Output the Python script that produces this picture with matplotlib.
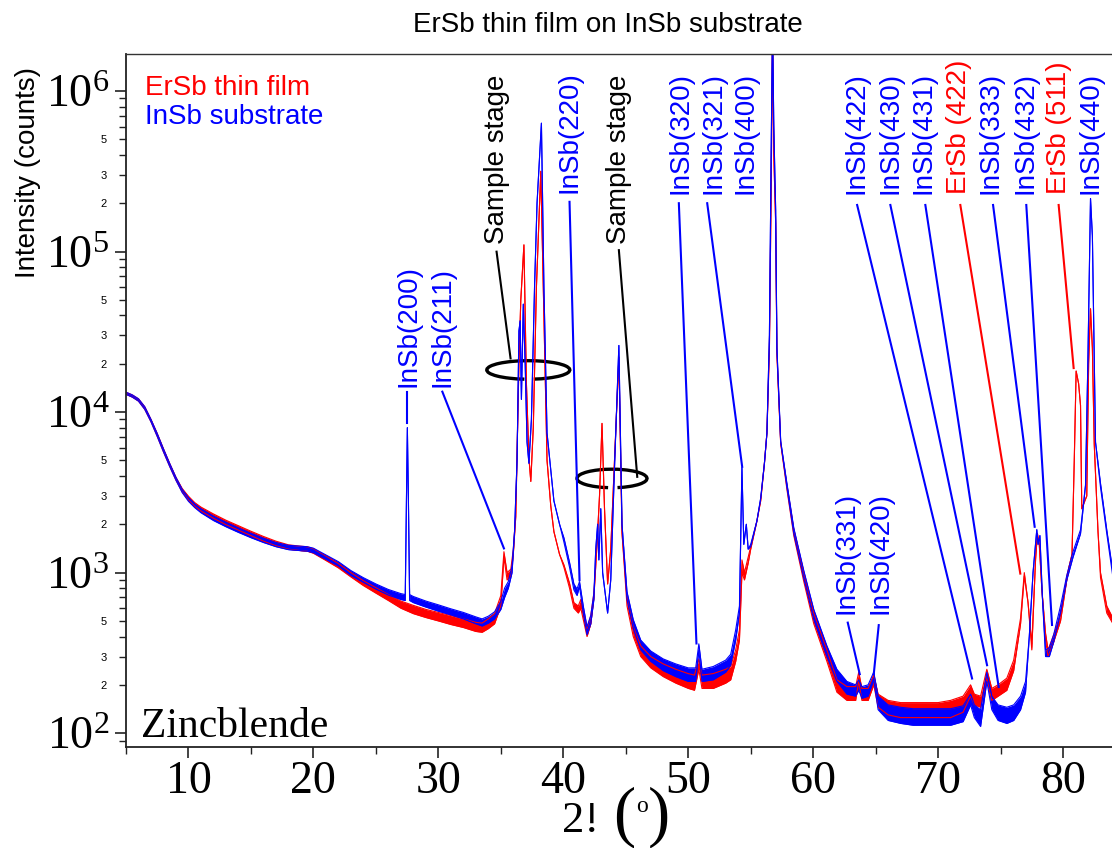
import matplotlib
matplotlib.use("Agg")
import matplotlib.pyplot as plt
import numpy as np
from matplotlib.patches import Arc
from matplotlib.transforms import ScaledTranslation
from matplotlib.ticker import MultipleLocator, LogLocator, FuncFormatter

plt.rcParams['font.family'] = ['Liberation Sans', 'DejaVu Sans']
plt.rcParams['mathtext.fontset'] = 'custom'
plt.rcParams['mathtext.rm'] = 'Liberation Serif'
plt.rcParams['mathtext.it'] = 'Liberation Serif:italic'
plt.rcParams['mathtext.bf'] = 'Liberation Serif:bold'

# ErSb thin film scan: 2theta, lower / upper edge of the noise band (counts)
tt_film = [5.0, 5.5, 6.0, 6.5, 7.0, 7.5, 8.0, 8.5, 9.0, 9.5, 10.0, 10.5, 11.0, 12.0, 13.0,
           14.0, 15.0, 16.0, 17.0, 18.0, 19.0, 19.5, 20.0, 21.0, 22.0, 23.0, 24.0, 25.0,
           26.0, 27.0, 28.0, 29.0, 30.0, 31.0, 32.0, 33.0, 33.5, 34.0, 34.5, 35.0, 35.25,
           35.5, 35.8, 36.0, 36.2, 36.45, 36.6, 36.85, 37.05, 37.25, 37.4, 37.6, 37.85,
           38.2, 38.45, 38.7, 39.0, 39.25, 39.7, 40.05, 40.5, 40.85, 41.2, 41.4, 41.7,
           41.9, 42.2, 42.45, 42.7, 42.9, 43.1, 43.3, 43.55, 43.8, 44.1, 44.45, 44.7,
           45.1, 45.6, 46.2, 47.0, 48.0, 49.0, 50.0, 50.5, 50.85, 51.1, 52.0, 53.0, 53.4,
           53.8, 54.1, 54.3, 54.5, 54.8, 55.0, 55.5, 55.8, 56.1, 56.3, 56.5, 56.65, 56.75,
           56.85, 57.0, 57.1, 57.4, 57.9, 58.45, 59.25, 60.05, 61.1, 61.9, 62.7, 63.4,
           63.65, 63.9, 64.4, 64.85, 65.2, 66.0, 67.0, 68.0, 69.0, 70.0, 71.0, 72.0, 72.6,
           72.9, 73.4, 73.9, 74.3, 74.8, 75.5, 76.05, 76.6, 76.9, 77.2, 77.5, 77.8, 77.95,
           78.1, 78.3, 78.6, 78.8, 79.25, 79.8, 80.3, 80.5, 80.72, 80.9, 81.05, 81.25,
           81.4, 81.5, 81.9, 82.05, 82.2, 82.35, 82.5, 82.8, 83.0, 83.5, 84.0]
film_lo = [12900, 12400, 11700, 10400, 8700, 7050, 5650, 4580, 3760, 3180, 2830, 2590, 2420,
           2180, 1990, 1840, 1700, 1570, 1470, 1400, 1370, 1360, 1320, 1190, 1070, 940, 830,
           745, 670, 600, 555, 525, 500, 475, 455, 430, 425, 448, 480, 620, 1250, 900, 950,
           1300, 2250, 20000, 50000, 110000, 15000, 5200, 3700, 8000, 60000, 316000, 40000,
           5000, 2600, 1800, 1300, 1080, 800, 600, 560, 600, 470, 400, 480, 700, 1500, 3000,
           8500, 2500, 850, 1400, 5000, 22000, 1770, 620, 400, 300, 255, 225, 205, 190, 185,
           250, 190, 190, 205, 215, 280, 380, 1000, 900, 1150, 1400, 2100, 2800, 4800, 7400,
           25000, 300000, 2500000, 400000, 150000, 23000, 6400, 3300, 1700, 880, 480, 280,
           180, 160, 160, 210, 160, 160, 200, 145, 130, 125, 125, 125, 125, 125, 135, 170,
           150, 145, 220, 160, 170, 185, 245, 480, 950, 650, 330, 1200, 1750, 1500, 800, 380,
           300, 370, 500, 900, 1100, 1300, 5000, 18000, 15000, 11000, 2500, 3000, 20000,
           44000, 25000, 6300, 1800, 930, 560, 480]
film_hi = [13300, 12800, 12100, 10800, 9000, 7350, 5900, 4780, 3920, 3340, 2990, 2730, 2560,
           2320, 2120, 1960, 1810, 1680, 1570, 1490, 1460, 1450, 1410, 1270, 1140, 1000, 890,
           805, 730, 665, 625, 590, 565, 540, 515, 490, 485, 515, 555, 720, 1350, 1000, 1050,
           1400, 2350, 20000, 50000, 110000, 15000, 5200, 3700, 8000, 60000, 316000, 40000,
           5000, 2600, 1800, 1300, 1120, 860, 650, 620, 680, 520, 450, 540, 750, 1500, 3000,
           8500, 2500, 850, 1400, 5000, 22000, 1770, 700, 460, 350, 300, 270, 250, 235, 230,
           290, 230, 235, 250, 260, 330, 440, 1200, 1000, 1250, 1450, 2100, 2800, 4800, 7400,
           25000, 300000, 2500000, 400000, 150000, 23000, 6400, 3500, 1850, 1000, 560, 330,
           215, 195, 195, 240, 190, 190, 230, 175, 160, 155, 155, 155, 155, 160, 170, 200,
           175, 170, 250, 190, 200, 220, 285, 520, 1000, 650, 360, 1200, 1750, 1500, 800, 420,
           330, 410, 540, 950, 1100, 1300, 5000, 18000, 15000, 11000, 2500, 3000, 20000,
           44000, 25000, 6300, 1800, 1000, 620, 520]

# InSb substrate scan
tt_sub = [5.0, 5.5, 6.0, 6.5, 7.0, 7.5, 8.0, 8.5, 9.0, 9.5, 10.0, 10.5, 11.0, 12.0, 13.0,
          14.0, 15.0, 16.0, 17.0, 18.0, 19.0, 19.5, 20.0, 21.0, 22.0, 23.0, 24.0, 25.0,
          26.0, 27.0, 27.35, 27.45, 27.52, 27.6, 27.7, 28.0, 29.0, 30.0, 31.0, 32.0, 33.0,
          33.5, 34.0, 34.5, 35.0, 35.3, 35.6, 35.9, 36.1, 36.3, 36.45, 36.55, 36.65, 36.8,
          36.95, 37.1, 37.25, 37.45, 37.7, 37.9, 38.25, 38.45, 38.7, 39.25, 39.7, 40.05,
          40.5, 40.85, 41.1, 41.3, 41.6, 41.9, 42.2, 42.45, 42.6, 42.75, 42.85, 43.0, 43.15,
          43.4, 43.55, 43.8, 44.1, 44.45, 44.7, 45.1, 45.6, 46.2, 47.0, 48.0, 49.0, 50.0,
          50.6, 50.85, 51.1, 52.0, 53.0, 53.4, 53.8, 54.1, 54.3, 54.45, 54.65, 54.8, 55.0,
          55.5, 55.8, 56.1, 56.3, 56.5, 56.65, 56.75, 56.85, 57.0, 57.1, 57.4, 57.9, 58.45,
          59.25, 60.05, 61.1, 61.9, 62.7, 63.4, 63.65, 63.9, 64.4, 64.85, 65.2, 66.0, 67.0,
          68.0, 69.0, 70.0, 71.0, 72.0, 72.6, 72.9, 73.4, 73.9, 74.3, 74.8, 75.5, 76.05,
          76.6, 77.0, 77.3, 77.6, 77.9, 78.0, 78.15, 78.35, 78.6, 78.9, 79.25, 79.8, 80.3,
          80.8, 81.4, 81.8, 82.0, 82.2, 82.35, 82.6, 83.0, 83.5, 84.0]
sub_lo = [12900, 12400, 11700, 10400, 8700, 7050, 5650, 4580, 3760, 3150, 2780, 2540, 2360,
          2110, 1930, 1780, 1650, 1540, 1450, 1390, 1370, 1360, 1330, 1210, 1100, 960, 870,
          790, 725, 680, 670, 3000, 8000, 3000, 670, 650, 610, 575, 545, 515, 480, 465, 485,
          515, 590, 700, 800, 1000, 1800, 5000, 32000, 37000, 12000, 47000, 20000, 6500,
          4800, 9000, 60000, 200000, 630000, 60000, 7400, 2800, 2000, 1550, 1080, 780, 720,
          820, 560, 410, 480, 680, 1400, 2000, 1200, 2500, 1000, 700, 560, 900, 4500, 26000,
          2000, 680, 450, 330, 280, 245, 225, 210, 210, 330, 210, 215, 240, 265, 380, 560,
          4500, 1500, 2000, 1400, 1450, 2100, 2900, 4800, 7400, 30000, 500000, 2500000,
          600000, 180000, 25000, 6600, 3400, 1750, 920, 510, 300, 210, 175, 170, 185, 165,
          170, 215, 140, 120, 115, 112, 112, 112, 112, 118, 150, 125, 110, 210, 140, 120,
          115, 120, 140, 180, 400, 1000, 1850, 1500, 1700, 700, 300, 300, 370, 560, 900,
          1250, 1750, 3500, 23000, 214000, 125000, 6500, 3400, 1750, 930]
sub_hi = [13300, 12800, 12100, 10800, 9000, 7350, 5900, 4780, 3920, 3300, 2930, 2680, 2500,
          2250, 2060, 1900, 1760, 1640, 1540, 1480, 1460, 1450, 1420, 1290, 1170, 1030, 930,
          850, 785, 740, 730, 3000, 8000, 3000, 730, 710, 665, 630, 595, 565, 530, 515, 535,
          570, 660, 800, 880, 1100, 1800, 5000, 32000, 37000, 12000, 47000, 20000, 6500,
          4800, 9000, 60000, 200000, 630000, 60000, 7400, 2800, 2000, 1650, 1160, 850, 790,
          880, 620, 460, 540, 740, 1400, 2000, 1200, 2500, 1000, 700, 560, 900, 4500, 26000,
          2000, 760, 510, 380, 325, 290, 270, 255, 255, 360, 250, 260, 285, 310, 440, 620,
          4500, 1500, 2000, 1400, 1500, 2100, 2900, 4800, 7400, 30000, 500000, 2500000,
          600000, 180000, 25000, 6600, 3600, 1900, 1030, 590, 350, 250, 210, 200, 215, 195,
          200, 240, 170, 150, 145, 142, 142, 142, 142, 148, 175, 150, 140, 240, 170, 150,
          145, 150, 170, 210, 400, 1000, 1850, 1500, 1700, 700, 330, 340, 410, 620, 960,
          1350, 1850, 3500, 23000, 214000, 125000, 6500, 3600, 1850, 1000]

# peak labels: text, colour, 2theta of text, counts at text foot
ann_text = ['InSb(200)', 'InSb(211)', 'Sample stage', 'InSb(220)', 'Sample stage',
            'InSb(320)', 'InSb(321)', 'InSb(400)', 'InSb(422)', 'InSb(430)', 'InSb(431)',
            'ErSb (422)', 'InSb(333)', 'InSb(432)', 'ErSb (511)', 'InSb(440)',
            'InSb(331)', 'InSb(420)']
ann_color = ['blue', 'blue', 'black', 'blue', 'black', 'blue', 'blue', 'blue', 'blue',
             'blue', 'blue', 'red', 'blue', 'blue', 'red', 'blue', 'blue', 'blue']
ann_x = [27.65, 30.32, 34.66, 40.5, 44.45, 49.38, 52.05, 54.58, 63.5, 66.2, 68.85,
         71.65, 74.2, 77.0, 79.65, 82.2, 62.7, 65.4]
ann_y = [14400, 14400, 112000, 230000, 112000, 228000, 228000, 228000, 228000, 228000,
         228000, 228000, 228000, 228000, 228000, 228000, 553, 553]
# leader lines (start -> end), None where the label sits on its peak
ann_lead = [(27.52, 13400, 27.52, 8600), (30.32, 13400, 35.25, 1415),
            (34.66, 99800, 35.78, 21600), (40.5, 204000, 41.3, 897),
            (44.45, 102000, 45.92, 3950), (49.25, 200000, 50.66, 362),
            (51.52, 200000, 54.32, 4560), None,
            (63.52, 195000, 72.72, 219), (66.18, 195000, 73.92, 265),
            (68.98, 195000, 74.85, 194), (71.78, 195000, 76.58, 986),
            (74.4, 195000, 77.73, 1930), (77.06, 195000, 79.12, 472),
            (79.65, 195000, 80.85, 18800), None,
            (62.77, 488, 63.73, 233), (65.25, 471, 64.85, 233)]

# "sample stage" brackets: centre (2theta, counts), width in pixels
stage_x = [37.2, 43.9]
stage_y = [18300, 3860]
stage_w = [83, 70]

fig = plt.figure(figsize=(11.12, 8.48), dpi=100)
ax = fig.add_axes([126 / 1112, 1 - 747 / 848, 987 / 1112, 693 / 848])
ax.set_yscale('log')

ax.fill_between(tt_film, film_lo, film_hi, color='#ff0000', lw=0)
ax.plot(tt_film, film_lo, color='#ff0000', lw=0.8)
ax.plot(tt_film, film_hi, color='#ff0000', lw=0.8)
ax.fill_between(tt_sub, sub_lo, sub_hi, color='#0000ff', lw=0)
ax.plot(tt_sub, sub_lo, color='#0000ff', lw=0.8)
ax.plot(tt_sub, sub_hi, color='#0000ff', lw=0.8)

for txt, col, x, y, lead in zip(ann_text, ann_color, ann_x, ann_y, ann_lead):
    ax.text(x, y, txt, color=col, rotation=90, ha='center', va='bottom', fontsize=20)
    if lead is not None:
        ax.plot([lead[0], lead[2]], [lead[1], lead[3]], color=col, lw=1.5)

for cx, cy, w in zip(stage_x, stage_y, stage_w):
    tr = fig.dpi_scale_trans + ScaledTranslation(cx, cy, ax.transData)
    ax.add_patch(Arc((0, 0), w / 100, 0.185, theta1=-59, theta2=247,
                     transform=tr, color='black', lw=2.4))

ax.set_xlim(5, 84)
ax.set_ylim(82, 1.7e6)

ax.xaxis.set_major_locator(MultipleLocator(10))
ax.xaxis.set_minor_locator(MultipleLocator(5))
ax.yaxis.set_major_locator(LogLocator(base=10, numticks=10))
ax.yaxis.set_minor_locator(LogLocator(base=10, subs=np.arange(2, 10), numticks=30))
ax.yaxis.set_major_formatter(FuncFormatter(lambda v, p: r'$10^{%d}$' % round(np.log10(v))))


def minor_label(v, p):
    m = int(round(v / 10 ** np.floor(np.log10(v) + 1e-9)))
    return str(m) if m in (2, 3, 5) else ''


ax.yaxis.set_minor_formatter(FuncFormatter(minor_label))

ax.tick_params(which='major', direction='out', length=8, width=1.2, colors='#222222')
ax.tick_params(which='minor', direction='out', length=5, width=1.0, colors='#222222')
ax.tick_params(axis='x', which='major', labelsize=33, labelfontfamily='Liberation Serif',
               pad=2, labelcolor='black')
ax.tick_params(axis='y', which='major', labelsize=33, labelfontfamily='Liberation Serif',
               pad=4, labelcolor='black')
ax.tick_params(axis='y', which='minor', labelsize=8, pad=9, labelcolor='black')
ax.spines['right'].set_visible(False)
for s in ['left', 'bottom']:
    ax.spines[s].set_linewidth(1.3)
    ax.spines[s].set_color('#222222')
ax.spines['top'].set_linewidth(1.0)
ax.spines['top'].set_color('#333333')

ax.text(0.0193, 0.9408, 'ErSb thin film', color='#ff0000', fontsize=20,
        transform=ax.transAxes, va='baseline')
ax.text(0.0193, 0.899, 'InSb substrate', color='#0000ff', fontsize=20,
        transform=ax.transAxes, va='baseline')
ax.text(0.0148, 0.0144, 'Zincblende', fontsize=30, family='Liberation Serif',
        transform=ax.transAxes, va='baseline')

fig.text(0.547, 0.97, 'ErSb thin film on InSb substrate', ha='center', va='center', fontsize=20)
fig.text(0.0252, 0.797, 'Intensity (counts)', rotation=90, ha='center', va='center', fontsize=20)

# x-axis label pieces
fig.text(0.5225, 0.0189, '2!', ha='center', va='baseline', fontsize=32, family='Liberation Serif')
fig.text(0.561, 0.0165, '(', ha='center', va='baseline', fontsize=48, family='Liberation Serif')
fig.text(0.5926, 0.0165, ')', ha='center', va='baseline', fontsize=48, family='Liberation Serif')
fig.text(0.5773, 0.0495, 'o', ha='center', va='center', fontsize=17, family='Liberation Serif')

fig.savefig('out.png', dpi=100)
